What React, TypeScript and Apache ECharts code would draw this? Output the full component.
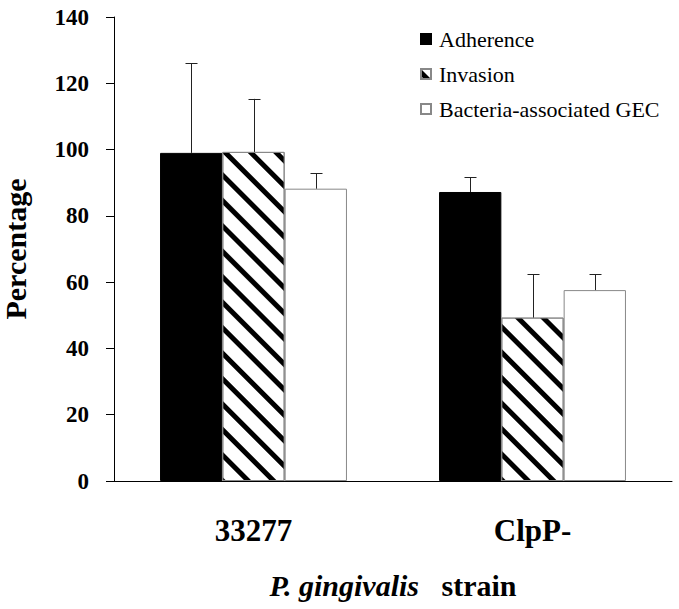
import React, { useEffect, useRef } from "react";
import * as echarts from "echarts";

const categories = ["33277", "ClpP-"];
const seriesNames = ["Adherence", "Invasion", "Bacteria-associated GEC"];
const adherence = [99, 87.2];
const adherenceSD = [27, 4.5];
const invasion = [99.3, 49.3];
const invasionSD = [16, 13.1];
const gec = [88.2, 57.6];
const gecSD = [4.7, 4.8];
const yTicks = { min: 0, max: 140, interval: 20 };

const FONT = "Liberation Serif";
const GAP_RATIO = 0.33;

function errorSeries(values: number[], sds: number[], k: number) {
  return {
    type: "custom",
    name: "err" + k,
    z: 5,
    silent: true,
    encode: { x: 0, y: [1, 2] },
    data: values.map((v, i) => [i, v, v + sds[i]]),
    renderItem: (params: any, api: any) => {
      const c = api.value(0);
      const lo = api.coord([c, api.value(1)]);
      const hi = api.coord([c, api.value(2)]);
      const band = api.size([1, 0])[0];
      const barW = (band * (1 - GAP_RATIO)) / 3;
      const x = Math.round(lo[0] + (k - 1) * barW) + 0.5;
      const style = { stroke: "#222", lineWidth: 1 };
      return {
        type: "group",
        children: [
          { type: "line", shape: { x1: x, y1: lo[1], x2: x, y2: hi[1] }, style },
          { type: "line", shape: { x1: x - 6, y1: Math.round(hi[1]) + 0.5, x2: x + 6, y2: Math.round(hi[1]) + 0.5 }, style },
        ],
      };
    },
  };
}

export default function App() {
  const ref = useRef<HTMLDivElement>(null);
  useEffect(() => {
    if (!ref.current) return;
    const chart = echarts.init(ref.current, null, { renderer: "svg" });
    const hatch = {
      symbol: "rect",
      symbolSize: 1,
      color: "#000",
      backgroundColor: "#fff",
      dashArrayX: [[1, 0]],
      dashArrayY: [5, 13],
      rotation: Math.PI / 4,
    };
    chart.setOption({
      animation: false,
      backgroundColor: "#fff",
      textStyle: { fontFamily: FONT },
      grid: { left: 114, right: 7, top: 17, bottom: 128, outerBoundsMode: "none", containLabel: false },
      legend: {
        orient: "vertical",
        left: 415,
        top: 23,
        itemWidth: 10,
        itemHeight: 10,
        itemGap: 13,
        icon: "rect",
        data: seriesNames,
        textStyle: { fontFamily: FONT, fontSize: 22, color: "#000", padding: [0, 0, 0, 3] },
      },
      xAxis: {
        type: "category",
        data: categories,
        axisLine: { lineStyle: { color: "#000", width: 1 } },
        axisTick: { show: false },
        axisLabel: { fontFamily: FONT, fontSize: 31, fontWeight: "bold", color: "#000", margin: 34 },
        name: "{i|P. gingivalis}{b|   strain}",
        nameLocation: "middle",
        nameGap: 89,
        nameTextStyle: {
          rich: {
            i: { fontFamily: FONT, fontSize: 30, fontWeight: "bold", fontStyle: "italic", color: "#000" },
            b: { fontFamily: FONT, fontSize: 30, fontWeight: "bold", color: "#000" },
          },
        },
      },
      yAxis: {
        type: "value",
        min: yTicks.min,
        max: yTicks.max,
        interval: yTicks.interval,
        splitLine: { show: false },
        axisLine: { show: true, lineStyle: { color: "#000", width: 1 } },
        axisTick: { show: true, length: 8, lineStyle: { color: "#000" } },
        axisLabel: { fontFamily: FONT, fontSize: 23, fontWeight: "bold", color: "#000", margin: 25 },
        name: "Percentage",
        nameLocation: "middle",
        nameGap: 84,
        nameTextStyle: { fontFamily: FONT, fontSize: 30, fontWeight: "bold", color: "#000" },
      },
      series: [
        {
          type: "bar",
          name: seriesNames[0],
          data: adherence,
          barGap: "0%",
          barCategoryGap: "33%",
          itemStyle: { color: "#000", borderColor: "#000", borderWidth: 1 },
        },
        {
          type: "bar",
          name: seriesNames[1],
          data: invasion,
          itemStyle: { color: "#fff", borderColor: "#888", borderWidth: 1, decal: hatch },
        },
        {
          type: "bar",
          name: seriesNames[2],
          data: gec,
          itemStyle: { color: "#fff", borderColor: "#888", borderWidth: 1 },
        },
        errorSeries(adherence, adherenceSD, 0),
        errorSeries(invasion, invasionSD, 1),
        errorSeries(gec, gecSD, 2),
      ],
    });
    return () => chart.dispose();
  }, []);
  return <div ref={ref} style={{ position: "fixed", left: 0, top: 0, width: 679, height: 609 }} />;
}
